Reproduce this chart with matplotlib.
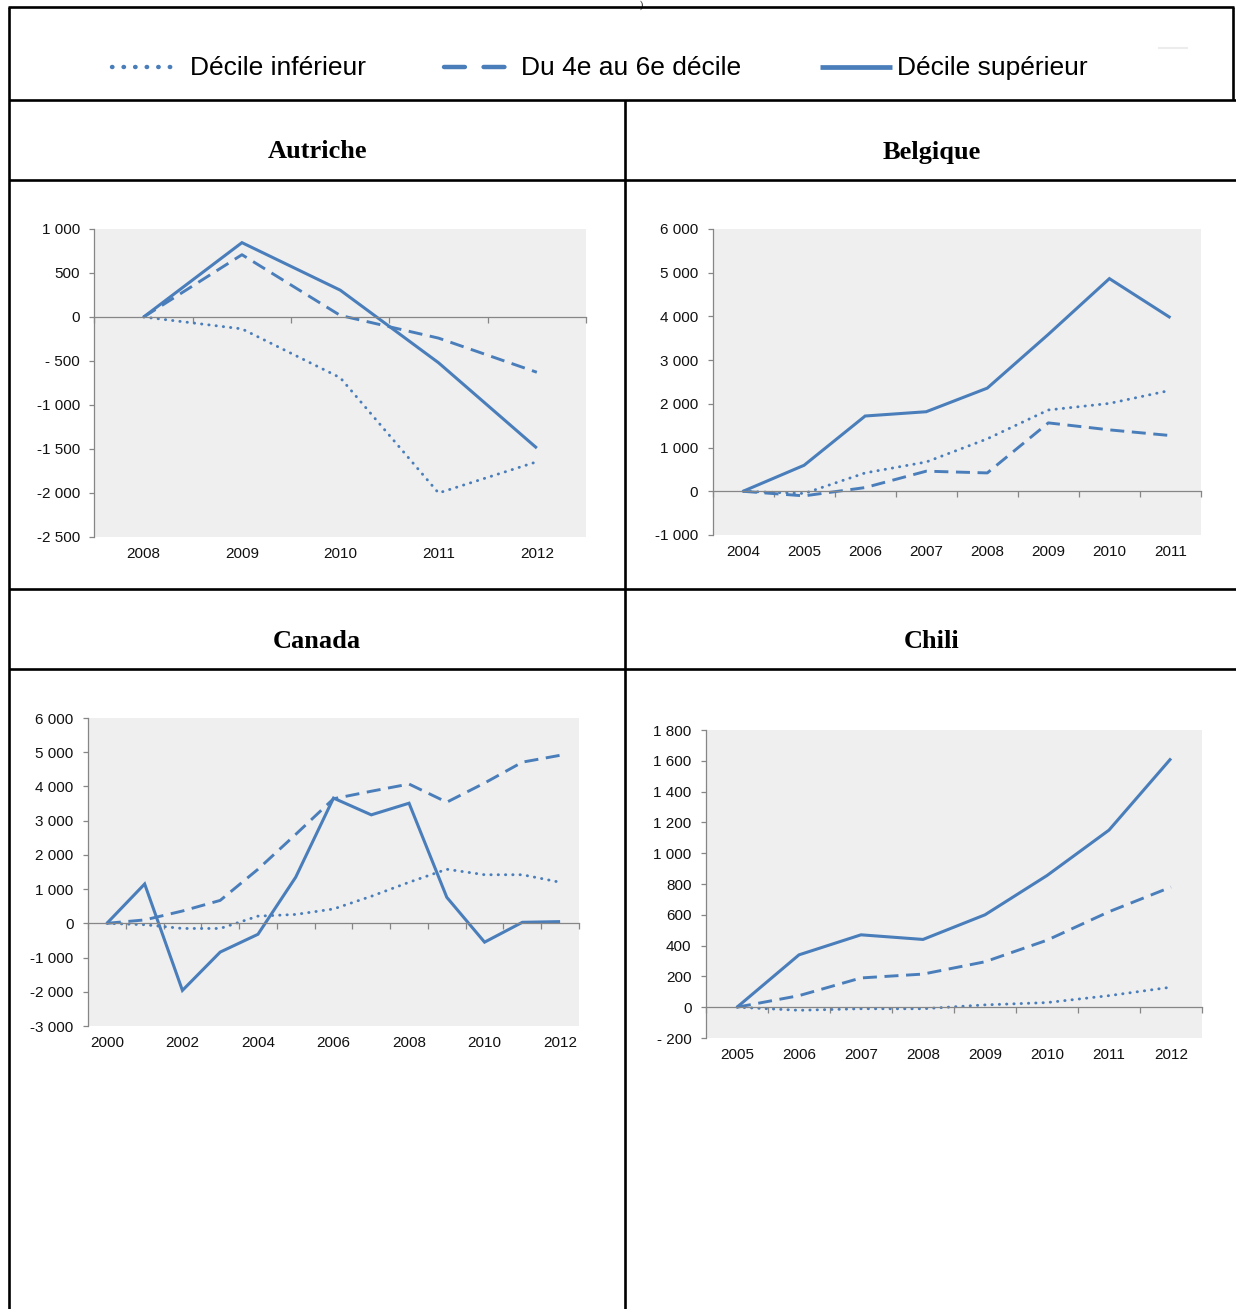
import matplotlib
matplotlib.use("Agg")
import matplotlib.pyplot as plt

W, H = 1236, 1309
BLUE   = "#4a7ebb"
GRID   = "#868686"
PANEL  = "#efefef"
SANS   = "Liberation Sans"
SERIF  = "Liberation Serif"

SERIES = ["Décile inférieur", "Du 4e au 6e décile", "Décile supérieur"]

AUT_YEARS = [2008, 2009, 2010, 2011, 2012]
AUT_LOW   = [0, -135, -690, -2000, -1645]
AUT_MID   = [0, 708, 18, -240, -628]
AUT_TOP   = [0, 845, 305, -520, -1490]

BEL_YEARS = [2004, 2005, 2006, 2007, 2008, 2009, 2010, 2011]
BEL_LOW   = [0, -50, 420, 670, 1200, 1860, 2010, 2310]
BEL_MID   = [0, -105, 85, 460, 420, 1565, 1405, 1275]
BEL_TOP   = [0, 595, 1722, 1820, 2360, 3590, 4865, 3970]

CAN_YEARS = list(range(2000, 2013))
CAN_LOW   = [0, -40, -150, -150, 210, 260, 420, 790, 1200, 1580, 1420, 1420, 1200]
CAN_MID   = [0, 100, 360, 670, 1580, 2600, 3640, 3860, 4070, 3540, 4100, 4710, 4910]
CAN_TOP   = [0, 1150, -1960, -840, -320, 1350, 3660, 3170, 3510, 760, -550, 30, 50]

CHL_YEARS = [2005, 2006, 2007, 2008, 2009, 2010, 2011, 2012]
CHL_LOW   = [0, -20, -10, -10, 15, 30, 75, 130]
CHL_MID   = [0, 75, 190, 215, 295, 435, 620, 780]
CHL_TOP   = [0, 340, 470, 440, 600, 855, 1150, 1615]

STYLES = [
    dict(linestyle=(0, (0.1, 2.4)), dash_capstyle="round", lw=2.1),
    dict(linestyle=(0, (4.8, 2.6)), dash_capstyle="butt", lw=2.1),
    dict(linestyle="-", lw=2.2),
]


def fmt(v):
    s = f"{abs(v):,}".replace(",", " ")
    if v < 0:
        return ("- " if abs(v) < 1000 else "-") + s
    return s


def panel(fig, box, years, series, yticks, label_step=1):
    x0, x1, y0, y1 = box
    ax = fig.add_axes([x0 / W, 1 - y1 / H, (x1 - x0) / W, (y1 - y0) / H])
    ax.set_facecolor(PANEL)
    n = len(years)
    xs = range(n)
    for vals, st in zip(series, STYLES):
        ax.plot(xs, vals, color=BLUE, solid_capstyle="butt",
                solid_joinstyle="miter", **st)

    ax.set_xlim(-0.5, n - 0.5)
    ax.set_ylim(yticks[0], yticks[-1])

    for s in ("top", "right"):
        ax.spines[s].set_visible(False)
    ax.spines["left"].set_color(GRID)
    ax.spines["bottom"].set_color(GRID)
    ax.spines["bottom"].set_position(("data", 0))
    ax.spines["left"].set_linewidth(0.9)
    ax.spines["bottom"].set_linewidth(0.9)

    ax.set_yticks(yticks)
    ax.set_yticklabels([fmt(v) for v in yticks], fontsize=11,
                       family=SANS, color="#111111")
    ax.tick_params(axis="y", length=3.5, width=0.9, color=GRID, pad=7)

    ax.set_xticks([i - 0.5 for i in range(n + 1)])
    ax.set_xticklabels([])
    ax.tick_params(axis="x", length=4, width=0.9, color=GRID, direction="out")

    # category labels sit under the plot area, not on the zero line
    for i, yr in enumerate(years):
        if i % label_step:
            continue
        ax.annotate(str(yr), xy=(i, 0), xycoords=("data", "axes fraction"),
                    xytext=(0, -12.5), textcoords="offset points",
                    ha="center", va="center", fontsize=11, family=SANS,
                    color="#111111")
    return ax


fig = plt.figure(figsize=(W / 100, H / 100), dpi=100)
bg = fig.add_axes([0, 0, 1, 1], zorder=-1)
bg.set_xlim(0, W)
bg.set_ylim(H, 0)
bg.axis("off")

# table rules
rule = dict(color="black", lw=1.9, solid_capstyle="butt")
bg.plot([8, 1234], [7, 7], **rule)
bg.plot([9, 9], [7, H], **rule)
bg.plot([1233, 1233], [7, 100], **rule)
for y in (100, 180, 589, 669):
    bg.plot([9, W], [y, y], **rule)
bg.plot([625, 625], [100, H], **rule)
bg.plot([1159, 1187], [48, 48], color="#ececec", lw=1.5)
bg.text(641, 0, ")", ha="center", va="top", fontsize=7, family=SERIF)

# legend
leg_lines = [(112, 177), (444, 508), (820, 892)]
leg_text_x = [190, 521, 897]
leg_styles = [
    dict(linestyle=(0, (0.1, 2.5)), dash_capstyle="round", lw=3.2),
    dict(linestyle=(0, (4.7, 4.2)), dash_capstyle="round", lw=3.2),
    dict(linestyle="-", lw=3.4, solid_capstyle="butt"),
]
for (a, b), tx, st, name in zip(leg_lines, leg_text_x, leg_styles, SERIES):
    bg.plot([a, b], [67, 67], color=BLUE, **st)
    bg.text(tx, 68, name, ha="left", va="center", fontsize=19, family=SANS)

# panel titles
for name, x, y in [("Autriche", 317, 152), ("Belgique", 932, 152),
                   ("Canada", 317, 641), ("Chili", 932, 641)]:
    bg.text(x, y, name, ha="center", va="center", fontsize=19,
            family=SERIF, fontweight="bold")

panel(fig, (94.5, 586, 229, 537), AUT_YEARS, [AUT_LOW, AUT_MID, AUT_TOP],
      list(range(-2500, 1001, 500)))
panel(fig, (712.5, 1201, 229, 535), BEL_YEARS, [BEL_LOW, BEL_MID, BEL_TOP],
      list(range(-1000, 6001, 1000)))
panel(fig, (88, 579, 718, 1026), CAN_YEARS, [CAN_LOW, CAN_MID, CAN_TOP],
      list(range(-3000, 6001, 1000)), label_step=2)
panel(fig, (706, 1202, 730, 1038), CHL_YEARS, [CHL_LOW, CHL_MID, CHL_TOP],
      list(range(-200, 1801, 200)))

fig.savefig("out.png", dpi=100, facecolor="white")
